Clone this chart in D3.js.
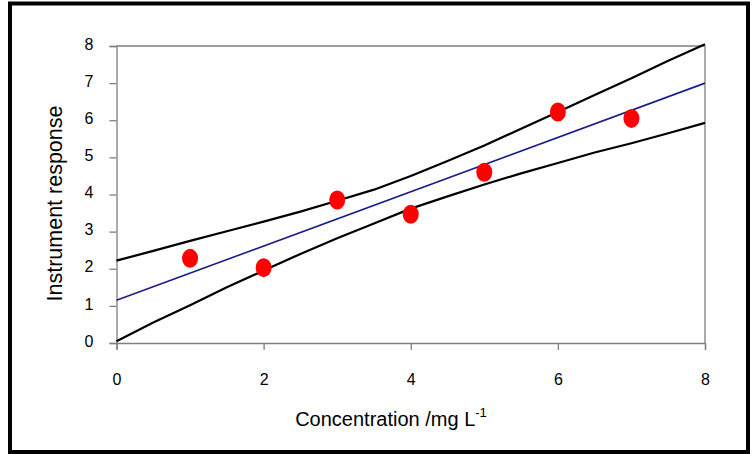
<!DOCTYPE html>
<html>
<head>
<meta charset="utf-8">
<script src="https://cdn.jsdelivr.net/npm/d3@7"></script>
<style>
html,body{margin:0;padding:0;background:#fff;}
svg{display:block;}
text{font-family:"Liberation Sans",Arial,sans-serif;fill:#000;}
.tick text{font-size:16px;}
</style>
</head>
<body>
<script>
// Data
const concentration = [1, 2, 3, 4, 5, 6, 7];
const response = [2.28, 2.03, 3.85, 3.47, 4.6, 6.22, 6.05];
const fitX = [0, 8];
const fitY = [1.15, 7.0];
const bandX = [0, 0.5, 1, 1.5, 2, 2.5, 3, 3.5, 4, 4.5, 5, 5.5, 6, 6.5, 7, 7.5, 8];
const upperY = [2.22, 2.48, 2.75, 3.01, 3.27, 3.54, 3.83, 4.13, 4.5, 4.9, 5.32, 5.77, 6.22, 6.68, 7.13, 7.6, 8.05];
const lowerY = [0.05, 0.55, 1.02, 1.5, 1.95, 2.4, 2.82, 3.22, 3.62, 3.95, 4.27, 4.57, 4.85, 5.13, 5.38, 5.65, 5.93];
const xTicks = [0, 2, 4, 6, 8];
const yTicks = [0, 1, 2, 3, 4, 5, 6, 7, 8];
const xTitle = "Concentration /mg L";
const xTitleSup = "-1";
const yTitle = "Instrument response";

(function () {
const W = 752, H = 454;
const svg = d3.select("body").append("svg").attr("width", W).attr("height", H);

// outer border
svg.append("rect").attr("x", 10).attr("y", 3.5).attr("width", 738).attr("height", 448.5)
  .attr("fill", "none").attr("stroke", "#000").attr("stroke-width", 4);

const pL = 116.5, pR = 705, pT = 46, pB = 343;
const x = d3.scaleLinear().domain([0, 8]).range([pL, pR]);
const y = d3.scaleLinear().domain([0, 8]).range([pB, pT]);

const axisColor = "#7f7f7f";

// frame top/right
svg.append("path")
  .attr("d", `M${pL},${pT}H${pR}V${pB}`)
  .attr("fill", "none").attr("stroke", axisColor).attr("stroke-width", 1.3);

// x axis
const gx = svg.append("g").attr("transform", `translate(0,${pB})`)
  .call(d3.axisBottom(x).tickValues(xTicks).tickSize(7).tickPadding(24).tickFormat(d3.format("d")));
// y axis
const gy = svg.append("g").attr("transform", `translate(${pL},0)`)
  .call(d3.axisLeft(y).tickValues(yTicks).tickSize(7).tickPadding(16).tickFormat(d3.format("d")));
[gx, gy].forEach(g => {
  g.attr("font-size", null).attr("font-family", null);
  g.select(".domain").attr("stroke", axisColor).attr("stroke-width", 1.3);
  g.selectAll(".tick line").attr("stroke", axisColor).attr("stroke-width", 1.3);
  g.selectAll(".tick text").attr("fill", "#000");
});
gy.selectAll(".tick text").attr("dy", "0.2em");

const line = d3.line().x(d => x(d[0])).y(d => y(d[1]));

// confidence bands
svg.append("path").datum(d3.zip(bandX, upperY)).attr("d", line)
  .attr("fill", "none").attr("stroke", "#000").attr("stroke-width", 2.2).attr("stroke-linejoin", "round");
svg.append("path").datum(d3.zip(bandX, lowerY)).attr("d", line)
  .attr("fill", "none").attr("stroke", "#000").attr("stroke-width", 2.2).attr("stroke-linejoin", "round");
// regression line
svg.append("path").datum(d3.zip(fitX, fitY)).attr("d", line)
  .attr("fill", "none").attr("stroke", "#1c1c8a").attr("stroke-width", 1.6);

// points
svg.append("g").selectAll("ellipse").data(d3.zip(concentration, response)).join("ellipse")
  .attr("cx", d => x(d[0])).attr("cy", d => y(d[1]))
  .attr("rx", 8).attr("ry", 9.5).attr("fill", "#ff0000");

// axis titles
const xt = svg.append("text").attr("x", 391).attr("y", 426).attr("text-anchor", "middle").style("font-size", "20px");
xt.append("tspan").text(xTitle);
xt.append("tspan").style("font-size", "13px").attr("dy", -9).text(xTitleSup);

svg.append("text").attr("transform", `translate(62,${(100 + 307) / 2}) rotate(-90)`)
  .attr("text-anchor", "middle").style("font-size", "21.5px").text(yTitle);
})();
</script>
</body>
</html>
